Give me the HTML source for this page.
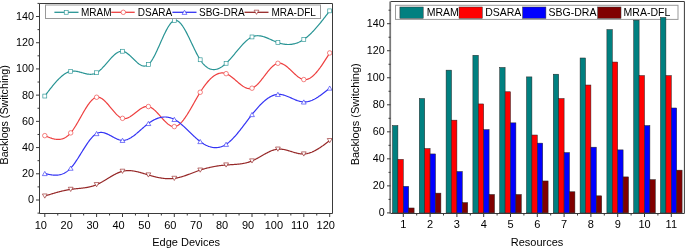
<!DOCTYPE html>
<html><head><meta charset="utf-8"><style>
html,body{margin:0;padding:0;background:#fff;}
body{width:685px;height:248px;overflow:hidden;font-family:"Liberation Sans",sans-serif;}
svg{display:block;will-change:transform;}
</style></head><body>
<svg width="685" height="248" viewBox="0 0 685 248"><rect x="0" y="0" width="685" height="248" fill="#fff"/>
<path d="M44.80,96.06 L45.45,95.20 L46.09,94.34 L46.74,93.48 L47.39,92.62 L48.04,91.76 L48.68,90.91 L49.33,90.07 L49.98,89.23 L50.63,88.40 L51.27,87.58 L51.92,86.77 L52.57,85.97 L53.22,85.17 L53.86,84.39 L54.51,83.63 L55.16,82.87 L55.81,82.14 L56.45,81.41 L57.10,80.71 L57.75,80.02 L58.40,79.35 L59.04,78.69 L59.69,78.06 L60.34,77.45 L60.99,76.86 L61.63,76.30 L62.28,75.75 L62.93,75.24 L63.58,74.75 L64.22,74.28 L64.87,73.84 L65.52,73.43 L66.17,73.05 L66.81,72.70 L67.46,72.38 L68.11,72.10 L68.76,71.84 L69.41,71.62 L70.05,71.44 L70.70,71.29 L71.35,71.18 L72.00,71.10 L72.64,71.05 L73.29,71.03 L73.94,71.05 L74.58,71.08 L75.23,71.14 L75.88,71.23 L76.53,71.33 L77.17,71.45 L77.82,71.59 L78.47,71.74 L79.12,71.90 L79.76,72.07 L80.41,72.24 L81.06,72.43 L81.71,72.61 L82.35,72.79 L83.00,72.98 L83.65,73.16 L84.30,73.33 L84.94,73.50 L85.59,73.65 L86.24,73.80 L86.89,73.93 L87.53,74.04 L88.18,74.14 L88.83,74.21 L89.48,74.26 L90.12,74.29 L90.77,74.29 L91.42,74.26 L92.07,74.20 L92.72,74.11 L93.36,73.98 L94.01,73.81 L94.66,73.61 L95.30,73.36 L95.95,73.07 L96.60,72.73 L97.25,72.35 L97.89,71.92 L98.54,71.45 L99.19,70.93 L99.84,70.39 L100.48,69.81 L101.13,69.20 L101.78,68.56 L102.43,67.89 L103.07,67.21 L103.72,66.51 L104.37,65.79 L105.02,65.06 L105.66,64.31 L106.31,63.57 L106.96,62.81 L107.61,62.06 L108.25,61.31 L108.90,60.56 L109.55,59.82 L110.20,59.10 L110.84,58.38 L111.49,57.69 L112.14,57.01 L112.79,56.35 L113.43,55.72 L114.08,55.12 L114.73,54.55 L115.38,54.02 L116.02,53.52 L116.67,53.06 L117.32,52.65 L117.97,52.28 L118.61,51.96 L119.26,51.69 L119.91,51.48 L120.56,51.32 L121.20,51.23 L121.85,51.20 L122.50,51.24 L123.15,51.34 L123.79,51.51 L124.44,51.74 L125.09,52.03 L125.74,52.37 L126.38,52.76 L127.03,53.20 L127.68,53.67 L128.33,54.18 L128.97,54.72 L129.62,55.29 L130.27,55.88 L130.92,56.49 L131.56,57.11 L132.21,57.74 L132.86,58.38 L133.51,59.03 L134.15,59.66 L134.80,60.30 L135.45,60.92 L136.10,61.52 L136.75,62.11 L137.39,62.67 L138.04,63.21 L138.69,63.71 L139.33,64.17 L139.98,64.60 L140.63,64.98 L141.28,65.31 L141.93,65.59 L142.57,65.80 L143.22,65.96 L143.87,66.05 L144.51,66.07 L145.16,66.02 L145.81,65.88 L146.46,65.67 L147.10,65.36 L147.75,64.97 L148.40,64.47 L149.05,63.88 L149.69,63.20 L150.34,62.42 L150.99,61.56 L151.64,60.62 L152.28,59.61 L152.93,58.53 L153.58,57.39 L154.23,56.20 L154.88,54.95 L155.52,53.65 L156.17,52.32 L156.82,50.95 L157.46,49.55 L158.11,48.12 L158.76,46.68 L159.41,45.22 L160.06,43.76 L160.70,42.29 L161.35,40.83 L162.00,39.37 L162.64,37.93 L163.29,36.51 L163.94,35.11 L164.59,33.75 L165.23,32.42 L165.88,31.13 L166.53,29.88 L167.18,28.69 L167.82,27.56 L168.47,26.49 L169.12,25.48 L169.77,24.55 L170.41,23.70 L171.06,22.94 L171.71,22.26 L172.36,21.68 L173.00,21.20 L173.65,20.83 L174.30,20.57 L174.95,20.42 L175.59,20.39 L176.24,20.46 L176.89,20.64 L177.54,20.92 L178.19,21.29 L178.83,21.76 L179.48,22.31 L180.13,22.95 L180.77,23.66 L181.42,24.45 L182.07,25.30 L182.72,26.22 L183.37,27.21 L184.01,28.24 L184.66,29.33 L185.31,30.47 L185.95,31.65 L186.60,32.87 L187.25,34.12 L187.90,35.41 L188.55,36.72 L189.19,38.05 L189.84,39.40 L190.49,40.76 L191.13,42.13 L191.78,43.50 L192.43,44.88 L193.08,46.25 L193.72,47.61 L194.37,48.95 L195.02,50.28 L195.67,51.59 L196.31,52.87 L196.96,54.12 L197.61,55.33 L198.26,56.51 L198.90,57.64 L199.55,58.72 L200.20,59.76 L200.85,60.73 L201.50,61.65 L202.14,62.51 L202.79,63.32 L203.44,64.08 L204.08,64.78 L204.73,65.43 L205.38,66.03 L206.03,66.58 L206.68,67.09 L207.32,67.54 L207.97,67.94 L208.62,68.30 L209.26,68.61 L209.91,68.88 L210.56,69.10 L211.21,69.28 L211.85,69.42 L212.50,69.51 L213.15,69.57 L213.80,69.58 L214.44,69.55 L215.09,69.49 L215.74,69.38 L216.39,69.25 L217.03,69.07 L217.68,68.86 L218.33,68.61 L218.98,68.34 L219.62,68.02 L220.27,67.68 L220.92,67.31 L221.57,66.90 L222.21,66.47 L222.86,66.01 L223.51,65.52 L224.16,65.00 L224.81,64.46 L225.45,63.89 L226.10,63.29 L226.75,62.68 L227.39,62.04 L228.04,61.38 L228.69,60.70 L229.34,60.01 L229.99,59.30 L230.63,58.57 L231.28,57.83 L231.93,57.09 L232.57,56.33 L233.22,55.56 L233.87,54.79 L234.52,54.01 L235.16,53.23 L235.81,52.45 L236.46,51.67 L237.11,50.89 L237.75,50.11 L238.40,49.34 L239.05,48.57 L239.70,47.81 L240.34,47.06 L240.99,46.32 L241.64,45.60 L242.29,44.88 L242.94,44.19 L243.58,43.51 L244.23,42.85 L244.88,42.21 L245.52,41.59 L246.17,40.99 L246.82,40.42 L247.47,39.88 L248.12,39.36 L248.76,38.88 L249.41,38.42 L250.06,38.00 L250.70,37.61 L251.35,37.26 L252.00,36.95 L252.65,36.67 L253.29,36.44 L253.94,36.24 L254.59,36.07 L255.24,35.94 L255.88,35.84 L256.53,35.77 L257.18,35.73 L257.83,35.72 L258.47,35.74 L259.12,35.78 L259.77,35.85 L260.42,35.95 L261.06,36.06 L261.71,36.20 L262.36,36.35 L263.01,36.53 L263.65,36.72 L264.30,36.92 L264.95,37.14 L265.60,37.38 L266.25,37.62 L266.89,37.88 L267.54,38.14 L268.19,38.42 L268.83,38.70 L269.48,38.98 L270.13,39.27 L270.78,39.56 L271.43,39.86 L272.07,40.15 L272.72,40.44 L273.37,40.73 L274.01,41.02 L274.66,41.30 L275.31,41.58 L275.96,41.84 L276.60,42.10 L277.25,42.35 L277.90,42.58 L278.55,42.81 L279.19,43.02 L279.84,43.22 L280.49,43.40 L281.14,43.57 L281.78,43.73 L282.43,43.87 L283.08,44.00 L283.73,44.11 L284.38,44.21 L285.02,44.30 L285.67,44.37 L286.32,44.42 L286.96,44.46 L287.61,44.48 L288.26,44.49 L288.91,44.48 L289.56,44.46 L290.20,44.42 L290.85,44.36 L291.50,44.29 L292.14,44.19 L292.79,44.09 L293.44,43.96 L294.09,43.82 L294.73,43.66 L295.38,43.48 L296.03,43.28 L296.68,43.07 L297.32,42.83 L297.97,42.58 L298.62,42.31 L299.27,42.02 L299.91,41.71 L300.56,41.38 L301.21,41.03 L301.86,40.67 L302.50,40.28 L303.15,39.87 L303.80,39.44 L304.45,38.99 L305.09,38.52 L305.74,38.03 L306.39,37.52 L307.04,37.00 L307.69,36.45 L308.33,35.89 L308.98,35.31 L309.63,34.71 L310.27,34.10 L310.92,33.47 L311.57,32.83 L312.22,32.17 L312.87,31.50 L313.51,30.82 L314.16,30.12 L314.81,29.41 L315.45,28.69 L316.10,27.96 L316.75,27.22 L317.40,26.46 L318.05,25.70 L318.69,24.93 L319.34,24.14 L319.99,23.35 L320.63,22.56 L321.28,21.75 L321.93,20.94 L322.58,20.12 L323.23,19.30 L323.87,18.47 L324.52,17.64 L325.17,16.80 L325.81,15.96 L326.46,15.11 L327.11,14.27 L327.76,13.42 L328.40,12.57 L329.05,11.72 L329.70,10.87" fill="none" stroke="#289494" stroke-width="1.2" stroke-linejoin="round"/>
<path d="M44.80,135.64 L45.45,135.92 L46.09,136.19 L46.74,136.46 L47.39,136.73 L48.04,136.99 L48.68,137.25 L49.33,137.50 L49.98,137.74 L50.63,137.97 L51.27,138.18 L51.92,138.39 L52.57,138.58 L53.22,138.75 L53.86,138.91 L54.51,139.05 L55.16,139.17 L55.81,139.27 L56.45,139.35 L57.10,139.40 L57.75,139.43 L58.40,139.43 L59.04,139.41 L59.69,139.36 L60.34,139.28 L60.99,139.17 L61.63,139.02 L62.28,138.84 L62.93,138.63 L63.58,138.38 L64.22,138.10 L64.87,137.77 L65.52,137.41 L66.17,137.00 L66.81,136.55 L67.46,136.06 L68.11,135.52 L68.76,134.94 L69.41,134.30 L70.05,133.62 L70.70,132.89 L71.35,132.11 L72.00,131.28 L72.64,130.40 L73.29,129.49 L73.94,128.53 L74.58,127.54 L75.23,126.52 L75.88,125.47 L76.53,124.40 L77.17,123.30 L77.82,122.19 L78.47,121.06 L79.12,119.92 L79.76,118.78 L80.41,117.63 L81.06,116.47 L81.71,115.32 L82.35,114.18 L83.00,113.04 L83.65,111.92 L84.30,110.81 L84.94,109.72 L85.59,108.66 L86.24,107.62 L86.89,106.61 L87.53,105.63 L88.18,104.69 L88.83,103.78 L89.48,102.92 L90.12,102.11 L90.77,101.35 L91.42,100.63 L92.07,99.98 L92.72,99.38 L93.36,98.85 L94.01,98.38 L94.66,97.98 L95.30,97.66 L95.95,97.41 L96.60,97.24 L97.25,97.15 L97.89,97.15 L98.54,97.22 L99.19,97.35 L99.84,97.56 L100.48,97.83 L101.13,98.17 L101.78,98.56 L102.43,99.00 L103.07,99.49 L103.72,100.03 L104.37,100.60 L105.02,101.22 L105.66,101.87 L106.31,102.55 L106.96,103.26 L107.61,103.99 L108.25,104.73 L108.90,105.50 L109.55,106.27 L110.20,107.05 L110.84,107.84 L111.49,108.63 L112.14,109.41 L112.79,110.18 L113.43,110.95 L114.08,111.70 L114.73,112.43 L115.38,113.13 L116.02,113.81 L116.67,114.47 L117.32,115.08 L117.97,115.66 L118.61,116.20 L119.26,116.69 L119.91,117.14 L120.56,117.53 L121.20,117.86 L121.85,118.13 L122.50,118.34 L123.15,118.49 L123.79,118.56 L124.44,118.58 L125.09,118.54 L125.74,118.45 L126.38,118.30 L127.03,118.11 L127.68,117.87 L128.33,117.59 L128.97,117.27 L129.62,116.91 L130.27,116.53 L130.92,116.12 L131.56,115.68 L132.21,115.22 L132.86,114.75 L133.51,114.26 L134.15,113.75 L134.80,113.24 L135.45,112.73 L136.10,112.21 L136.75,111.70 L137.39,111.19 L138.04,110.69 L138.69,110.20 L139.33,109.72 L139.98,109.27 L140.63,108.83 L141.28,108.43 L141.93,108.05 L142.57,107.70 L143.22,107.39 L143.87,107.11 L144.51,106.88 L145.16,106.69 L145.81,106.55 L146.46,106.46 L147.10,106.43 L147.75,106.46 L148.40,106.55 L149.05,106.70 L149.69,106.91 L150.34,107.18 L150.99,107.51 L151.64,107.89 L152.28,108.31 L152.93,108.78 L153.58,109.29 L154.23,109.84 L154.88,110.42 L155.52,111.04 L156.17,111.68 L156.82,112.34 L157.46,113.02 L158.11,113.73 L158.76,114.44 L159.41,115.16 L160.06,115.89 L160.70,116.63 L161.35,117.36 L162.00,118.09 L162.64,118.81 L163.29,119.52 L163.94,120.22 L164.59,120.89 L165.23,121.55 L165.88,122.18 L166.53,122.79 L167.18,123.36 L167.82,123.90 L168.47,124.40 L169.12,124.86 L169.77,125.27 L170.41,125.63 L171.06,125.95 L171.71,126.20 L172.36,126.40 L173.00,126.53 L173.65,126.60 L174.30,126.60 L174.95,126.53 L175.59,126.38 L176.24,126.17 L176.89,125.90 L177.54,125.55 L178.19,125.15 L178.83,124.69 L179.48,124.18 L180.13,123.61 L180.77,122.98 L181.42,122.31 L182.07,121.60 L182.72,120.83 L183.37,120.03 L184.01,119.19 L184.66,118.31 L185.31,117.39 L185.95,116.45 L186.60,115.47 L187.25,114.46 L187.90,113.43 L188.55,112.38 L189.19,111.31 L189.84,110.22 L190.49,109.11 L191.13,107.99 L191.78,106.86 L192.43,105.72 L193.08,104.58 L193.72,103.43 L194.37,102.28 L195.02,101.13 L195.67,99.98 L196.31,98.84 L196.96,97.71 L197.61,96.59 L198.26,95.48 L198.90,94.39 L199.55,93.31 L200.20,92.26 L200.85,91.23 L201.50,90.22 L202.14,89.23 L202.79,88.27 L203.44,87.33 L204.08,86.42 L204.73,85.54 L205.38,84.67 L206.03,83.84 L206.68,83.03 L207.32,82.25 L207.97,81.50 L208.62,80.77 L209.26,80.08 L209.91,79.41 L210.56,78.78 L211.21,78.17 L211.85,77.59 L212.50,77.05 L213.15,76.54 L213.80,76.06 L214.44,75.61 L215.09,75.19 L215.74,74.81 L216.39,74.46 L217.03,74.15 L217.68,73.87 L218.33,73.63 L218.98,73.42 L219.62,73.25 L220.27,73.12 L220.92,73.02 L221.57,72.96 L222.21,72.94 L222.86,72.96 L223.51,73.02 L224.16,73.11 L224.81,73.25 L225.45,73.43 L226.10,73.65 L226.75,73.91 L227.39,74.21 L228.04,74.54 L228.69,74.91 L229.34,75.31 L229.99,75.74 L230.63,76.20 L231.28,76.67 L231.93,77.17 L232.57,77.69 L233.22,78.22 L233.87,78.76 L234.52,79.31 L235.16,79.87 L235.81,80.44 L236.46,81.00 L237.11,81.57 L237.75,82.13 L238.40,82.68 L239.05,83.23 L239.70,83.76 L240.34,84.28 L240.99,84.79 L241.64,85.27 L242.29,85.73 L242.94,86.17 L243.58,86.58 L244.23,86.96 L244.88,87.31 L245.52,87.62 L246.17,87.89 L246.82,88.12 L247.47,88.31 L248.12,88.46 L248.76,88.55 L249.41,88.59 L250.06,88.58 L250.70,88.51 L251.35,88.39 L252.00,88.20 L252.65,87.94 L253.29,87.63 L253.94,87.26 L254.59,86.83 L255.24,86.35 L255.88,85.83 L256.53,85.26 L257.18,84.64 L257.83,83.99 L258.47,83.31 L259.12,82.59 L259.77,81.85 L260.42,81.08 L261.06,80.29 L261.71,79.49 L262.36,78.67 L263.01,77.83 L263.65,76.99 L264.30,76.15 L264.95,75.30 L265.60,74.46 L266.25,73.62 L266.89,72.79 L267.54,71.97 L268.19,71.17 L268.83,70.39 L269.48,69.63 L270.13,68.89 L270.78,68.19 L271.43,67.51 L272.07,66.88 L272.72,66.28 L273.37,65.72 L274.01,65.21 L274.66,64.75 L275.31,64.34 L275.96,63.99 L276.60,63.69 L277.25,63.46 L277.90,63.29 L278.55,63.20 L279.19,63.16 L279.84,63.19 L280.49,63.28 L281.14,63.43 L281.78,63.63 L282.43,63.88 L283.08,64.18 L283.73,64.52 L284.38,64.90 L285.02,65.32 L285.67,65.77 L286.32,66.26 L286.96,66.77 L287.61,67.31 L288.26,67.87 L288.91,68.44 L289.56,69.04 L290.20,69.64 L290.85,70.25 L291.50,70.87 L292.14,71.50 L292.79,72.12 L293.44,72.74 L294.09,73.35 L294.73,73.95 L295.38,74.54 L296.03,75.11 L296.68,75.66 L297.32,76.19 L297.97,76.70 L298.62,77.17 L299.27,77.61 L299.91,78.02 L300.56,78.39 L301.21,78.72 L301.86,79.00 L302.50,79.23 L303.15,79.42 L303.80,79.55 L304.45,79.62 L305.09,79.64 L305.74,79.60 L306.39,79.51 L307.04,79.36 L307.69,79.17 L308.33,78.93 L308.98,78.64 L309.63,78.30 L310.27,77.92 L310.92,77.50 L311.57,77.03 L312.22,76.53 L312.87,75.99 L313.51,75.40 L314.16,74.79 L314.81,74.14 L315.45,73.45 L316.10,72.74 L316.75,71.99 L317.40,71.21 L318.05,70.41 L318.69,69.58 L319.34,68.73 L319.99,67.86 L320.63,66.96 L321.28,66.04 L321.93,65.10 L322.58,64.15 L323.23,63.18 L323.87,62.20 L324.52,61.20 L325.17,60.20 L325.81,59.18 L326.46,58.15 L327.11,57.12 L327.76,56.08 L328.40,55.03 L329.05,53.99 L329.70,52.94" fill="none" stroke="#ee4040" stroke-width="1.2" stroke-linejoin="round"/>
<path d="M44.80,173.52 L45.45,173.67 L46.09,173.82 L46.74,173.96 L47.39,174.10 L48.04,174.24 L48.68,174.37 L49.33,174.50 L49.98,174.62 L50.63,174.73 L51.27,174.83 L51.92,174.92 L52.57,174.99 L53.22,175.06 L53.86,175.11 L54.51,175.15 L55.16,175.17 L55.81,175.17 L56.45,175.16 L57.10,175.12 L57.75,175.07 L58.40,175.00 L59.04,174.90 L59.69,174.78 L60.34,174.63 L60.99,174.46 L61.63,174.27 L62.28,174.04 L62.93,173.79 L63.58,173.51 L64.22,173.20 L64.87,172.85 L65.52,172.48 L66.17,172.06 L66.81,171.62 L67.46,171.14 L68.11,170.62 L68.76,170.06 L69.41,169.46 L70.05,168.83 L70.70,168.15 L71.35,167.43 L72.00,166.67 L72.64,165.87 L73.29,165.04 L73.94,164.18 L74.58,163.29 L75.23,162.37 L75.88,161.42 L76.53,160.46 L77.17,159.47 L77.82,158.47 L78.47,157.45 L79.12,156.42 L79.76,155.39 L80.41,154.34 L81.06,153.29 L81.71,152.24 L82.35,151.19 L83.00,150.15 L83.65,149.11 L84.30,148.08 L84.94,147.06 L85.59,146.06 L86.24,145.07 L86.89,144.10 L87.53,143.15 L88.18,142.22 L88.83,141.33 L89.48,140.46 L90.12,139.62 L90.77,138.82 L91.42,138.05 L92.07,137.32 L92.72,136.64 L93.36,136.00 L94.01,135.40 L94.66,134.86 L95.30,134.37 L95.95,133.93 L96.60,133.55 L97.25,133.23 L97.89,132.96 L98.54,132.75 L99.19,132.59 L99.84,132.49 L100.48,132.42 L101.13,132.41 L101.78,132.43 L102.43,132.50 L103.07,132.60 L103.72,132.74 L104.37,132.91 L105.02,133.11 L105.66,133.33 L106.31,133.58 L106.96,133.85 L107.61,134.14 L108.25,134.45 L108.90,134.77 L109.55,135.10 L110.20,135.45 L110.84,135.80 L111.49,136.15 L112.14,136.51 L112.79,136.86 L113.43,137.21 L114.08,137.56 L114.73,137.89 L115.38,138.22 L116.02,138.53 L116.67,138.83 L117.32,139.11 L117.97,139.36 L118.61,139.60 L119.26,139.80 L119.91,139.98 L120.56,140.13 L121.20,140.25 L121.85,140.32 L122.50,140.36 L123.15,140.36 L123.79,140.32 L124.44,140.24 L125.09,140.13 L125.74,139.97 L126.38,139.79 L127.03,139.57 L127.68,139.32 L128.33,139.04 L128.97,138.73 L129.62,138.40 L130.27,138.04 L130.92,137.66 L131.56,137.25 L132.21,136.82 L132.86,136.37 L133.51,135.91 L134.15,135.43 L134.80,134.93 L135.45,134.42 L136.10,133.89 L136.75,133.36 L137.39,132.81 L138.04,132.26 L138.69,131.70 L139.33,131.13 L139.98,130.56 L140.63,129.99 L141.28,129.42 L141.93,128.85 L142.57,128.28 L143.22,127.71 L143.87,127.15 L144.51,126.59 L145.16,126.04 L145.81,125.50 L146.46,124.97 L147.10,124.45 L147.75,123.95 L148.40,123.46 L149.05,122.98 L149.69,122.52 L150.34,122.08 L150.99,121.66 L151.64,121.25 L152.28,120.86 L152.93,120.49 L153.58,120.13 L154.23,119.79 L154.88,119.47 L155.52,119.17 L156.17,118.89 L156.82,118.63 L157.46,118.38 L158.11,118.16 L158.76,117.95 L159.41,117.76 L160.06,117.60 L160.70,117.45 L161.35,117.32 L162.00,117.22 L162.64,117.13 L163.29,117.07 L163.94,117.02 L164.59,117.00 L165.23,117.00 L165.88,117.02 L166.53,117.07 L167.18,117.13 L167.82,117.22 L168.47,117.33 L169.12,117.47 L169.77,117.63 L170.41,117.81 L171.06,118.01 L171.71,118.24 L172.36,118.49 L173.00,118.77 L173.65,119.07 L174.30,119.39 L174.95,119.74 L175.59,120.12 L176.24,120.51 L176.89,120.93 L177.54,121.37 L178.19,121.83 L178.83,122.31 L179.48,122.80 L180.13,123.31 L180.77,123.84 L181.42,124.38 L182.07,124.93 L182.72,125.50 L183.37,126.08 L184.01,126.66 L184.66,127.26 L185.31,127.86 L185.95,128.48 L186.60,129.09 L187.25,129.71 L187.90,130.34 L188.55,130.97 L189.19,131.60 L189.84,132.23 L190.49,132.86 L191.13,133.49 L191.78,134.12 L192.43,134.74 L193.08,135.36 L193.72,135.97 L194.37,136.57 L195.02,137.17 L195.67,137.76 L196.31,138.34 L196.96,138.91 L197.61,139.46 L198.26,140.00 L198.90,140.53 L199.55,141.05 L200.20,141.54 L200.85,142.02 L201.50,142.48 L202.14,142.93 L202.79,143.35 L203.44,143.76 L204.08,144.15 L204.73,144.52 L205.38,144.87 L206.03,145.20 L206.68,145.51 L207.32,145.80 L207.97,146.07 L208.62,146.32 L209.26,146.55 L209.91,146.76 L210.56,146.95 L211.21,147.11 L211.85,147.26 L212.50,147.38 L213.15,147.48 L213.80,147.55 L214.44,147.60 L215.09,147.63 L215.74,147.64 L216.39,147.62 L217.03,147.58 L217.68,147.51 L218.33,147.42 L218.98,147.30 L219.62,147.16 L220.27,146.99 L220.92,146.80 L221.57,146.58 L222.21,146.34 L222.86,146.06 L223.51,145.76 L224.16,145.44 L224.81,145.09 L225.45,144.70 L226.10,144.30 L226.75,143.86 L227.39,143.39 L228.04,142.90 L228.69,142.39 L229.34,141.85 L229.99,141.28 L230.63,140.70 L231.28,140.09 L231.93,139.46 L232.57,138.81 L233.22,138.14 L233.87,137.45 L234.52,136.75 L235.16,136.03 L235.81,135.29 L236.46,134.54 L237.11,133.78 L237.75,133.00 L238.40,132.21 L239.05,131.41 L239.70,130.60 L240.34,129.78 L240.99,128.96 L241.64,128.12 L242.29,127.28 L242.94,126.44 L243.58,125.59 L244.23,124.73 L244.88,123.88 L245.52,123.02 L246.17,122.16 L246.82,121.30 L247.47,120.44 L248.12,119.59 L248.76,118.73 L249.41,117.88 L250.06,117.04 L250.70,116.20 L251.35,115.37 L252.00,114.54 L252.65,113.73 L253.29,112.92 L253.94,112.12 L254.59,111.33 L255.24,110.55 L255.88,109.78 L256.53,109.03 L257.18,108.28 L257.83,107.55 L258.47,106.84 L259.12,106.13 L259.77,105.45 L260.42,104.77 L261.06,104.11 L261.71,103.47 L262.36,102.85 L263.01,102.24 L263.65,101.65 L264.30,101.08 L264.95,100.53 L265.60,99.99 L266.25,99.48 L266.89,98.99 L267.54,98.52 L268.19,98.07 L268.83,97.65 L269.48,97.24 L270.13,96.86 L270.78,96.51 L271.43,96.18 L272.07,95.87 L272.72,95.59 L273.37,95.34 L274.01,95.11 L274.66,94.92 L275.31,94.75 L275.96,94.60 L276.60,94.49 L277.25,94.41 L277.90,94.36 L278.55,94.34 L279.19,94.34 L279.84,94.38 L280.49,94.44 L281.14,94.53 L281.78,94.64 L282.43,94.77 L283.08,94.93 L283.73,95.10 L284.38,95.29 L285.02,95.50 L285.67,95.72 L286.32,95.96 L286.96,96.20 L287.61,96.46 L288.26,96.73 L288.91,97.00 L289.56,97.28 L290.20,97.57 L290.85,97.85 L291.50,98.14 L292.14,98.43 L292.79,98.72 L293.44,99.00 L294.09,99.28 L294.73,99.56 L295.38,99.82 L296.03,100.08 L296.68,100.33 L297.32,100.57 L297.97,100.79 L298.62,101.00 L299.27,101.19 L299.91,101.36 L300.56,101.52 L301.21,101.65 L301.86,101.77 L302.50,101.86 L303.15,101.92 L303.80,101.96 L304.45,101.97 L305.09,101.95 L305.74,101.91 L306.39,101.84 L307.04,101.75 L307.69,101.63 L308.33,101.49 L308.98,101.32 L309.63,101.14 L310.27,100.93 L310.92,100.70 L311.57,100.45 L312.22,100.18 L312.87,99.89 L313.51,99.58 L314.16,99.26 L314.81,98.92 L315.45,98.56 L316.10,98.19 L316.75,97.80 L317.40,97.40 L318.05,96.99 L318.69,96.56 L319.34,96.12 L319.99,95.67 L320.63,95.21 L321.28,94.74 L321.93,94.26 L322.58,93.78 L323.23,93.28 L323.87,92.78 L324.52,92.27 L325.17,91.76 L325.81,91.24 L326.46,90.72 L327.11,90.19 L327.76,89.66 L328.40,89.13 L329.05,88.60 L329.70,88.07" fill="none" stroke="#3434f4" stroke-width="1.2" stroke-linejoin="round"/>
<path d="M44.80,196.07 L45.45,195.86 L46.09,195.66 L46.74,195.46 L47.39,195.25 L48.04,195.05 L48.68,194.85 L49.33,194.65 L49.98,194.45 L50.63,194.25 L51.27,194.05 L51.92,193.86 L52.57,193.66 L53.22,193.47 L53.86,193.28 L54.51,193.09 L55.16,192.90 L55.81,192.72 L56.45,192.54 L57.10,192.36 L57.75,192.18 L58.40,192.00 L59.04,191.83 L59.69,191.66 L60.34,191.50 L60.99,191.33 L61.63,191.17 L62.28,191.02 L62.93,190.87 L63.58,190.72 L64.22,190.58 L64.87,190.44 L65.52,190.30 L66.17,190.17 L66.81,190.04 L67.46,189.92 L68.11,189.80 L68.76,189.69 L69.41,189.58 L70.05,189.48 L70.70,189.38 L71.35,189.29 L72.00,189.21 L72.64,189.12 L73.29,189.05 L73.94,188.97 L74.58,188.90 L75.23,188.83 L75.88,188.76 L76.53,188.70 L77.17,188.63 L77.82,188.57 L78.47,188.50 L79.12,188.44 L79.76,188.37 L80.41,188.31 L81.06,188.24 L81.71,188.17 L82.35,188.09 L83.00,188.01 L83.65,187.93 L84.30,187.84 L84.94,187.75 L85.59,187.65 L86.24,187.55 L86.89,187.44 L87.53,187.32 L88.18,187.20 L88.83,187.07 L89.48,186.92 L90.12,186.77 L90.77,186.61 L91.42,186.44 L92.07,186.26 L92.72,186.07 L93.36,185.87 L94.01,185.65 L94.66,185.43 L95.30,185.19 L95.95,184.93 L96.60,184.66 L97.25,184.38 L97.89,184.09 L98.54,183.78 L99.19,183.46 L99.84,183.13 L100.48,182.78 L101.13,182.43 L101.78,182.07 L102.43,181.71 L103.07,181.33 L103.72,180.95 L104.37,180.57 L105.02,180.18 L105.66,179.79 L106.31,179.39 L106.96,178.99 L107.61,178.60 L108.25,178.20 L108.90,177.81 L109.55,177.41 L110.20,177.02 L110.84,176.64 L111.49,176.25 L112.14,175.88 L112.79,175.51 L113.43,175.14 L114.08,174.79 L114.73,174.44 L115.38,174.10 L116.02,173.78 L116.67,173.46 L117.32,173.16 L117.97,172.87 L118.61,172.60 L119.26,172.34 L119.91,172.09 L120.56,171.87 L121.20,171.66 L121.85,171.47 L122.50,171.30 L123.15,171.14 L123.79,171.01 L124.44,170.90 L125.09,170.80 L125.74,170.73 L126.38,170.67 L127.03,170.63 L127.68,170.60 L128.33,170.59 L128.97,170.60 L129.62,170.61 L130.27,170.65 L130.92,170.69 L131.56,170.75 L132.21,170.83 L132.86,170.91 L133.51,171.00 L134.15,171.11 L134.80,171.23 L135.45,171.35 L136.10,171.48 L136.75,171.63 L137.39,171.78 L138.04,171.93 L138.69,172.10 L139.33,172.27 L139.98,172.44 L140.63,172.62 L141.28,172.81 L141.93,173.00 L142.57,173.19 L143.22,173.38 L143.87,173.58 L144.51,173.78 L145.16,173.98 L145.81,174.17 L146.46,174.37 L147.10,174.57 L147.75,174.77 L148.40,174.97 L149.05,175.16 L149.69,175.35 L150.34,175.54 L150.99,175.72 L151.64,175.90 L152.28,176.08 L152.93,176.25 L153.58,176.42 L154.23,176.59 L154.88,176.75 L155.52,176.91 L156.17,177.06 L156.82,177.21 L157.46,177.35 L158.11,177.48 L158.76,177.61 L159.41,177.74 L160.06,177.85 L160.70,177.96 L161.35,178.07 L162.00,178.17 L162.64,178.26 L163.29,178.34 L163.94,178.41 L164.59,178.48 L165.23,178.54 L165.88,178.59 L166.53,178.63 L167.18,178.66 L167.82,178.69 L168.47,178.70 L169.12,178.70 L169.77,178.70 L170.41,178.69 L171.06,178.66 L171.71,178.62 L172.36,178.58 L173.00,178.52 L173.65,178.45 L174.30,178.37 L174.95,178.28 L175.59,178.18 L176.24,178.07 L176.89,177.94 L177.54,177.81 L178.19,177.67 L178.83,177.52 L179.48,177.36 L180.13,177.19 L180.77,177.01 L181.42,176.83 L182.07,176.63 L182.72,176.44 L183.37,176.23 L184.01,176.02 L184.66,175.81 L185.31,175.59 L185.95,175.36 L186.60,175.13 L187.25,174.90 L187.90,174.67 L188.55,174.43 L189.19,174.19 L189.84,173.94 L190.49,173.70 L191.13,173.45 L191.78,173.21 L192.43,172.96 L193.08,172.71 L193.72,172.47 L194.37,172.22 L195.02,171.98 L195.67,171.73 L196.31,171.49 L196.96,171.25 L197.61,171.02 L198.26,170.79 L198.90,170.56 L199.55,170.34 L200.20,170.12 L200.85,169.90 L201.50,169.69 L202.14,169.49 L202.79,169.29 L203.44,169.09 L204.08,168.90 L204.73,168.72 L205.38,168.54 L206.03,168.36 L206.68,168.19 L207.32,168.03 L207.97,167.86 L208.62,167.71 L209.26,167.55 L209.91,167.40 L210.56,167.26 L211.21,167.12 L211.85,166.99 L212.50,166.85 L213.15,166.73 L213.80,166.60 L214.44,166.49 L215.09,166.37 L215.74,166.26 L216.39,166.15 L217.03,166.05 L217.68,165.95 L218.33,165.86 L218.98,165.77 L219.62,165.68 L220.27,165.60 L220.92,165.52 L221.57,165.44 L222.21,165.37 L222.86,165.30 L223.51,165.23 L224.16,165.17 L224.81,165.11 L225.45,165.06 L226.10,165.00 L226.75,164.96 L227.39,164.91 L228.04,164.87 L228.69,164.83 L229.34,164.79 L229.99,164.75 L230.63,164.71 L231.28,164.67 L231.93,164.63 L232.57,164.59 L233.22,164.55 L233.87,164.51 L234.52,164.47 L235.16,164.42 L235.81,164.38 L236.46,164.32 L237.11,164.27 L237.75,164.21 L238.40,164.14 L239.05,164.07 L239.70,164.00 L240.34,163.92 L240.99,163.83 L241.64,163.74 L242.29,163.64 L242.94,163.53 L243.58,163.41 L244.23,163.28 L244.88,163.15 L245.52,163.00 L246.17,162.85 L246.82,162.69 L247.47,162.51 L248.12,162.32 L248.76,162.12 L249.41,161.91 L250.06,161.69 L250.70,161.45 L251.35,161.20 L252.00,160.94 L252.65,160.66 L253.29,160.37 L253.94,160.07 L254.59,159.75 L255.24,159.43 L255.88,159.09 L256.53,158.75 L257.18,158.40 L257.83,158.04 L258.47,157.68 L259.12,157.32 L259.77,156.95 L260.42,156.57 L261.06,156.20 L261.71,155.82 L262.36,155.45 L263.01,155.08 L263.65,154.70 L264.30,154.34 L264.95,153.97 L265.60,153.62 L266.25,153.27 L266.89,152.92 L267.54,152.59 L268.19,152.26 L268.83,151.94 L269.48,151.64 L270.13,151.35 L270.78,151.07 L271.43,150.80 L272.07,150.55 L272.72,150.32 L273.37,150.10 L274.01,149.90 L274.66,149.72 L275.31,149.56 L275.96,149.42 L276.60,149.31 L277.25,149.21 L277.90,149.14 L278.55,149.10 L279.19,149.08 L279.84,149.08 L280.49,149.10 L281.14,149.15 L281.78,149.21 L282.43,149.29 L283.08,149.39 L283.73,149.50 L284.38,149.63 L285.02,149.77 L285.67,149.92 L286.32,150.08 L286.96,150.25 L287.61,150.43 L288.26,150.61 L288.91,150.80 L289.56,151.00 L290.20,151.20 L290.85,151.40 L291.50,151.60 L292.14,151.80 L292.79,152.00 L293.44,152.20 L294.09,152.40 L294.73,152.58 L295.38,152.77 L296.03,152.94 L296.68,153.10 L297.32,153.26 L297.97,153.40 L298.62,153.54 L299.27,153.65 L299.91,153.76 L300.56,153.84 L301.21,153.91 L301.86,153.96 L302.50,154.00 L303.15,154.01 L303.80,153.99 L304.45,153.96 L305.09,153.90 L305.74,153.82 L306.39,153.72 L307.04,153.60 L307.69,153.46 L308.33,153.29 L308.98,153.11 L309.63,152.91 L310.27,152.69 L310.92,152.46 L311.57,152.21 L312.22,151.94 L312.87,151.65 L313.51,151.35 L314.16,151.04 L314.81,150.71 L315.45,150.37 L316.10,150.01 L316.75,149.64 L317.40,149.26 L318.05,148.87 L318.69,148.47 L319.34,148.06 L319.99,147.64 L320.63,147.22 L321.28,146.78 L321.93,146.33 L322.58,145.88 L323.23,145.43 L323.87,144.96 L324.52,144.49 L325.17,144.02 L325.81,143.54 L326.46,143.06 L327.11,142.58 L327.76,142.09 L328.40,141.60 L329.05,141.11 L329.70,140.63" fill="none" stroke="#962828" stroke-width="1.2" stroke-linejoin="round"/>
<rect x="42.85" y="94.11" width="3.9" height="3.9" fill="#fff" stroke="#289494" stroke-width="0.65"/>
<rect x="68.75" y="69.34" width="3.9" height="3.9" fill="#fff" stroke="#289494" stroke-width="0.65"/>
<rect x="94.65" y="70.78" width="3.9" height="3.9" fill="#fff" stroke="#289494" stroke-width="0.65"/>
<rect x="120.55" y="49.29" width="3.9" height="3.9" fill="#fff" stroke="#289494" stroke-width="0.65"/>
<rect x="146.45" y="62.52" width="3.9" height="3.9" fill="#fff" stroke="#289494" stroke-width="0.65"/>
<rect x="172.35" y="18.62" width="3.9" height="3.9" fill="#fff" stroke="#289494" stroke-width="0.65"/>
<rect x="198.25" y="57.81" width="3.9" height="3.9" fill="#fff" stroke="#289494" stroke-width="0.65"/>
<rect x="224.15" y="61.34" width="3.9" height="3.9" fill="#fff" stroke="#289494" stroke-width="0.65"/>
<rect x="250.05" y="35.00" width="3.9" height="3.9" fill="#fff" stroke="#289494" stroke-width="0.65"/>
<rect x="275.95" y="40.63" width="3.9" height="3.9" fill="#fff" stroke="#289494" stroke-width="0.65"/>
<rect x="301.85" y="37.49" width="3.9" height="3.9" fill="#fff" stroke="#289494" stroke-width="0.65"/>
<rect x="327.75" y="8.92" width="3.9" height="3.9" fill="#fff" stroke="#289494" stroke-width="0.65"/>
<circle cx="44.80" cy="135.64" r="2.25" fill="#fff" stroke="#ee4040" stroke-width="0.65"/>
<circle cx="70.70" cy="132.89" r="2.25" fill="#fff" stroke="#ee4040" stroke-width="0.65"/>
<circle cx="96.60" cy="97.24" r="2.25" fill="#fff" stroke="#ee4040" stroke-width="0.65"/>
<circle cx="122.50" cy="118.34" r="2.25" fill="#fff" stroke="#ee4040" stroke-width="0.65"/>
<circle cx="148.40" cy="106.55" r="2.25" fill="#fff" stroke="#ee4040" stroke-width="0.65"/>
<circle cx="174.30" cy="126.60" r="2.25" fill="#fff" stroke="#ee4040" stroke-width="0.65"/>
<circle cx="200.20" cy="92.26" r="2.25" fill="#fff" stroke="#ee4040" stroke-width="0.65"/>
<circle cx="226.10" cy="73.65" r="2.25" fill="#fff" stroke="#ee4040" stroke-width="0.65"/>
<circle cx="252.00" cy="88.20" r="2.25" fill="#fff" stroke="#ee4040" stroke-width="0.65"/>
<circle cx="277.90" cy="63.29" r="2.25" fill="#fff" stroke="#ee4040" stroke-width="0.65"/>
<circle cx="303.80" cy="79.55" r="2.25" fill="#fff" stroke="#ee4040" stroke-width="0.65"/>
<circle cx="329.70" cy="52.94" r="2.25" fill="#fff" stroke="#ee4040" stroke-width="0.65"/>
<path d="M44.80,171.42 L47.20,175.62 L42.40,175.62 Z" fill="#fff" stroke="#3434f4" stroke-width="0.65"/>
<path d="M70.70,166.05 L73.10,170.25 L68.30,170.25 Z" fill="#fff" stroke="#3434f4" stroke-width="0.65"/>
<path d="M96.60,131.45 L99.00,135.65 L94.20,135.65 Z" fill="#fff" stroke="#3434f4" stroke-width="0.65"/>
<path d="M122.50,138.26 L124.90,142.46 L120.10,142.46 Z" fill="#fff" stroke="#3434f4" stroke-width="0.65"/>
<path d="M148.40,121.36 L150.80,125.56 L146.00,125.56 Z" fill="#fff" stroke="#3434f4" stroke-width="0.65"/>
<path d="M174.30,117.29 L176.70,121.49 L171.90,121.49 Z" fill="#fff" stroke="#3434f4" stroke-width="0.65"/>
<path d="M200.20,139.44 L202.60,143.64 L197.80,143.64 Z" fill="#fff" stroke="#3434f4" stroke-width="0.65"/>
<path d="M226.10,142.20 L228.50,146.40 L223.70,146.40 Z" fill="#fff" stroke="#3434f4" stroke-width="0.65"/>
<path d="M252.00,112.44 L254.40,116.64 L249.60,116.64 Z" fill="#fff" stroke="#3434f4" stroke-width="0.65"/>
<path d="M277.90,92.26 L280.30,96.46 L275.50,96.46 Z" fill="#fff" stroke="#3434f4" stroke-width="0.65"/>
<path d="M303.80,99.86 L306.20,104.06 L301.40,104.06 Z" fill="#fff" stroke="#3434f4" stroke-width="0.65"/>
<path d="M329.70,85.97 L332.10,90.17 L327.30,90.17 Z" fill="#fff" stroke="#3434f4" stroke-width="0.65"/>
<path d="M42.40,193.97 L47.20,193.97 L44.80,198.17 Z" fill="#fff" stroke="#962828" stroke-width="0.65"/>
<path d="M68.30,187.28 L73.10,187.28 L70.70,191.48 Z" fill="#fff" stroke="#962828" stroke-width="0.65"/>
<path d="M94.20,182.56 L99.00,182.56 L96.60,186.76 Z" fill="#fff" stroke="#962828" stroke-width="0.65"/>
<path d="M120.10,169.20 L124.90,169.20 L122.50,173.40 Z" fill="#fff" stroke="#962828" stroke-width="0.65"/>
<path d="M146.00,172.87 L150.80,172.87 L148.40,177.07 Z" fill="#fff" stroke="#962828" stroke-width="0.65"/>
<path d="M171.90,176.27 L176.70,176.27 L174.30,180.47 Z" fill="#fff" stroke="#962828" stroke-width="0.65"/>
<path d="M197.80,168.02 L202.60,168.02 L200.20,172.22 Z" fill="#fff" stroke="#962828" stroke-width="0.65"/>
<path d="M223.70,162.90 L228.50,162.90 L226.10,167.10 Z" fill="#fff" stroke="#962828" stroke-width="0.65"/>
<path d="M249.60,158.84 L254.40,158.84 L252.00,163.04 Z" fill="#fff" stroke="#962828" stroke-width="0.65"/>
<path d="M275.50,147.04 L280.30,147.04 L277.90,151.24 Z" fill="#fff" stroke="#962828" stroke-width="0.65"/>
<path d="M301.40,151.89 L306.20,151.89 L303.80,156.09 Z" fill="#fff" stroke="#962828" stroke-width="0.65"/>
<path d="M327.30,138.53 L332.10,138.53 L329.70,142.73 Z" fill="#fff" stroke="#962828" stroke-width="0.65"/>
<path d="M39.5,3.5 H332.5 V213.5 H39.5 Z" fill="none" stroke="#3a3a3a" stroke-width="1"/>
<line x1="37.5" y1="213.11" x2="39.5" y2="213.11" stroke="#3a3a3a" stroke-width="1"/>
<line x1="36.0" y1="200.00" x2="39.5" y2="200.00" stroke="#3a3a3a" stroke-width="1"/>
<text x="33.9" y="203.45" text-anchor="end" font-size="10.8" font-family="Liberation Sans, sans-serif" fill="#000">0</text>
<line x1="37.5" y1="186.89" x2="39.5" y2="186.89" stroke="#3a3a3a" stroke-width="1"/>
<line x1="36.0" y1="173.79" x2="39.5" y2="173.79" stroke="#3a3a3a" stroke-width="1"/>
<text x="33.9" y="177.24" text-anchor="end" font-size="10.8" font-family="Liberation Sans, sans-serif" fill="#000">20</text>
<line x1="37.5" y1="160.68" x2="39.5" y2="160.68" stroke="#3a3a3a" stroke-width="1"/>
<line x1="36.0" y1="147.57" x2="39.5" y2="147.57" stroke="#3a3a3a" stroke-width="1"/>
<text x="33.9" y="151.02" text-anchor="end" font-size="10.8" font-family="Liberation Sans, sans-serif" fill="#000">40</text>
<line x1="37.5" y1="134.47" x2="39.5" y2="134.47" stroke="#3a3a3a" stroke-width="1"/>
<line x1="36.0" y1="121.36" x2="39.5" y2="121.36" stroke="#3a3a3a" stroke-width="1"/>
<text x="33.9" y="124.81" text-anchor="end" font-size="10.8" font-family="Liberation Sans, sans-serif" fill="#000">60</text>
<line x1="37.5" y1="108.25" x2="39.5" y2="108.25" stroke="#3a3a3a" stroke-width="1"/>
<line x1="36.0" y1="95.14" x2="39.5" y2="95.14" stroke="#3a3a3a" stroke-width="1"/>
<text x="33.9" y="98.59" text-anchor="end" font-size="10.8" font-family="Liberation Sans, sans-serif" fill="#000">80</text>
<line x1="37.5" y1="82.04" x2="39.5" y2="82.04" stroke="#3a3a3a" stroke-width="1"/>
<line x1="36.0" y1="68.93" x2="39.5" y2="68.93" stroke="#3a3a3a" stroke-width="1"/>
<text x="33.9" y="72.38" text-anchor="end" font-size="10.8" font-family="Liberation Sans, sans-serif" fill="#000">100</text>
<line x1="37.5" y1="55.82" x2="39.5" y2="55.82" stroke="#3a3a3a" stroke-width="1"/>
<line x1="36.0" y1="42.72" x2="39.5" y2="42.72" stroke="#3a3a3a" stroke-width="1"/>
<text x="33.9" y="46.17" text-anchor="end" font-size="10.8" font-family="Liberation Sans, sans-serif" fill="#000">120</text>
<line x1="37.5" y1="29.61" x2="39.5" y2="29.61" stroke="#3a3a3a" stroke-width="1"/>
<line x1="36.0" y1="16.50" x2="39.5" y2="16.50" stroke="#3a3a3a" stroke-width="1"/>
<text x="33.9" y="19.95" text-anchor="end" font-size="10.8" font-family="Liberation Sans, sans-serif" fill="#000">140</text>
<line x1="37.5" y1="3.40" x2="39.5" y2="3.40" stroke="#3a3a3a" stroke-width="1"/>
<line x1="44.80" y1="213.5" x2="44.80" y2="217.0" stroke="#3a3a3a" stroke-width="1"/>
<text x="40.80" y="229" text-anchor="middle" font-size="11" font-family="Liberation Sans, sans-serif" fill="#000">10</text>
<line x1="57.75" y1="213.5" x2="57.75" y2="215.5" stroke="#3a3a3a" stroke-width="1"/>
<line x1="70.70" y1="213.5" x2="70.70" y2="217.0" stroke="#3a3a3a" stroke-width="1"/>
<text x="66.70" y="229" text-anchor="middle" font-size="11" font-family="Liberation Sans, sans-serif" fill="#000">20</text>
<line x1="83.65" y1="213.5" x2="83.65" y2="215.5" stroke="#3a3a3a" stroke-width="1"/>
<line x1="96.60" y1="213.5" x2="96.60" y2="217.0" stroke="#3a3a3a" stroke-width="1"/>
<text x="92.60" y="229" text-anchor="middle" font-size="11" font-family="Liberation Sans, sans-serif" fill="#000">30</text>
<line x1="109.55" y1="213.5" x2="109.55" y2="215.5" stroke="#3a3a3a" stroke-width="1"/>
<line x1="122.50" y1="213.5" x2="122.50" y2="217.0" stroke="#3a3a3a" stroke-width="1"/>
<text x="118.50" y="229" text-anchor="middle" font-size="11" font-family="Liberation Sans, sans-serif" fill="#000">40</text>
<line x1="135.45" y1="213.5" x2="135.45" y2="215.5" stroke="#3a3a3a" stroke-width="1"/>
<line x1="148.40" y1="213.5" x2="148.40" y2="217.0" stroke="#3a3a3a" stroke-width="1"/>
<text x="144.40" y="229" text-anchor="middle" font-size="11" font-family="Liberation Sans, sans-serif" fill="#000">50</text>
<line x1="161.35" y1="213.5" x2="161.35" y2="215.5" stroke="#3a3a3a" stroke-width="1"/>
<line x1="174.30" y1="213.5" x2="174.30" y2="217.0" stroke="#3a3a3a" stroke-width="1"/>
<text x="170.30" y="229" text-anchor="middle" font-size="11" font-family="Liberation Sans, sans-serif" fill="#000">60</text>
<line x1="187.25" y1="213.5" x2="187.25" y2="215.5" stroke="#3a3a3a" stroke-width="1"/>
<line x1="200.20" y1="213.5" x2="200.20" y2="217.0" stroke="#3a3a3a" stroke-width="1"/>
<text x="196.20" y="229" text-anchor="middle" font-size="11" font-family="Liberation Sans, sans-serif" fill="#000">70</text>
<line x1="213.15" y1="213.5" x2="213.15" y2="215.5" stroke="#3a3a3a" stroke-width="1"/>
<line x1="226.10" y1="213.5" x2="226.10" y2="217.0" stroke="#3a3a3a" stroke-width="1"/>
<text x="222.10" y="229" text-anchor="middle" font-size="11" font-family="Liberation Sans, sans-serif" fill="#000">80</text>
<line x1="239.05" y1="213.5" x2="239.05" y2="215.5" stroke="#3a3a3a" stroke-width="1"/>
<line x1="252.00" y1="213.5" x2="252.00" y2="217.0" stroke="#3a3a3a" stroke-width="1"/>
<text x="248.00" y="229" text-anchor="middle" font-size="11" font-family="Liberation Sans, sans-serif" fill="#000">90</text>
<line x1="264.95" y1="213.5" x2="264.95" y2="215.5" stroke="#3a3a3a" stroke-width="1"/>
<line x1="277.90" y1="213.5" x2="277.90" y2="217.0" stroke="#3a3a3a" stroke-width="1"/>
<text x="273.90" y="229" text-anchor="middle" font-size="11" font-family="Liberation Sans, sans-serif" fill="#000">100</text>
<line x1="290.85" y1="213.5" x2="290.85" y2="215.5" stroke="#3a3a3a" stroke-width="1"/>
<line x1="303.80" y1="213.5" x2="303.80" y2="217.0" stroke="#3a3a3a" stroke-width="1"/>
<text x="299.80" y="229" text-anchor="middle" font-size="11" font-family="Liberation Sans, sans-serif" fill="#000">110</text>
<line x1="316.75" y1="213.5" x2="316.75" y2="215.5" stroke="#3a3a3a" stroke-width="1"/>
<line x1="329.70" y1="213.5" x2="329.70" y2="217.0" stroke="#3a3a3a" stroke-width="1"/>
<text x="325.70" y="229" text-anchor="middle" font-size="11" font-family="Liberation Sans, sans-serif" fill="#000">120</text>
<text x="186.2" y="246.1" text-anchor="middle" font-size="11" font-family="Liberation Sans, sans-serif" fill="#000">Edge Devices</text>
<text transform="translate(8.2,114.9) rotate(-90)" text-anchor="middle" font-size="10.7" font-family="Liberation Sans, sans-serif" fill="#000">Backlogs (Switching)</text>
<rect x="45.5" y="5.0" width="275" height="13.5" fill="#fff" stroke="#999" stroke-width="1"/>
<line x1="54.4" y1="12.3" x2="78.5" y2="12.3" stroke="#289494" stroke-width="1.3"/>
<rect x="64.25" y="10.35" width="3.9" height="3.9" fill="#fff" stroke="#289494" stroke-width="0.65"/>
<text x="81" y="16" font-size="10" font-family="Liberation Sans, sans-serif" fill="#000">MRAM</text>
<line x1="111.2" y1="12.3" x2="134.7" y2="12.3" stroke="#ee4040" stroke-width="1.3"/>
<circle cx="123.30" cy="12.30" r="2.25" fill="#fff" stroke="#ee4040" stroke-width="0.65"/>
<text x="137.8" y="16" font-size="10" font-family="Liberation Sans, sans-serif" fill="#000">DSARA</text>
<line x1="172.4" y1="12.3" x2="196.5" y2="12.3" stroke="#3434f4" stroke-width="1.3"/>
<path d="M184.50,10.20 L186.90,14.40 L182.10,14.40 Z" fill="#fff" stroke="#3434f4" stroke-width="0.65"/>
<text x="199" y="16" font-size="10" font-family="Liberation Sans, sans-serif" fill="#000">SBG-DRA</text>
<line x1="244.5" y1="12.3" x2="268.5" y2="12.3" stroke="#962828" stroke-width="1.3"/>
<path d="M254.10,10.20 L258.90,10.20 L256.50,14.40 Z" fill="#fff" stroke="#962828" stroke-width="0.65"/>
<text x="271.4" y="16" font-size="10" font-family="Liberation Sans, sans-serif" fill="#000">MRA-DFL</text>
<rect x="395.5" y="5.3" width="282.5" height="14.1" fill="#fff" stroke="#999" stroke-width="1"/>
<rect x="399.90" y="7.0" width="23.3" height="11.3" fill="#008080" stroke="#333" stroke-width="0.5"/>
<text x="426.7" y="16.1" font-size="10.5" font-family="Liberation Sans, sans-serif" fill="#000">MRAM</text>
<rect x="459.00" y="7.0" width="23.3" height="11.3" fill="#FF0000" stroke="#333" stroke-width="0.5"/>
<text x="485.2" y="16.1" font-size="10.5" font-family="Liberation Sans, sans-serif" fill="#000">DSARA</text>
<rect x="522.60" y="7.0" width="23.3" height="11.3" fill="#0000FF" stroke="#333" stroke-width="0.5"/>
<text x="548.6" y="16.1" font-size="10.5" font-family="Liberation Sans, sans-serif" fill="#000">SBG-DRA</text>
<rect x="597.70" y="7.0" width="23.3" height="11.3" fill="#800000" stroke="#333" stroke-width="0.5"/>
<text x="623.6" y="16.1" font-size="10.5" font-family="Liberation Sans, sans-serif" fill="#000">MRA-DFL</text>
<rect x="392.50" y="125.56" width="5.4" height="87.34" fill="#008080" stroke="#222" stroke-width="0.5"/>
<rect x="397.90" y="159.34" width="5.4" height="53.56" fill="#FF0000" stroke="#222" stroke-width="0.5"/>
<rect x="403.30" y="186.37" width="5.4" height="26.53" fill="#0000FF" stroke="#222" stroke-width="0.5"/>
<rect x="408.70" y="207.99" width="5.4" height="4.91" fill="#800000" stroke="#222" stroke-width="0.5"/>
<rect x="419.30" y="98.53" width="5.4" height="114.37" fill="#008080" stroke="#222" stroke-width="0.5"/>
<rect x="424.70" y="148.53" width="5.4" height="64.37" fill="#FF0000" stroke="#222" stroke-width="0.5"/>
<rect x="430.10" y="153.94" width="5.4" height="58.96" fill="#0000FF" stroke="#222" stroke-width="0.5"/>
<rect x="435.50" y="193.13" width="5.4" height="19.77" fill="#800000" stroke="#222" stroke-width="0.5"/>
<rect x="446.10" y="70.15" width="5.4" height="142.75" fill="#008080" stroke="#222" stroke-width="0.5"/>
<rect x="451.50" y="120.15" width="5.4" height="92.75" fill="#FF0000" stroke="#222" stroke-width="0.5"/>
<rect x="456.90" y="171.51" width="5.4" height="41.39" fill="#0000FF" stroke="#222" stroke-width="0.5"/>
<rect x="462.30" y="202.59" width="5.4" height="10.31" fill="#800000" stroke="#222" stroke-width="0.5"/>
<rect x="472.90" y="55.29" width="5.4" height="157.61" fill="#008080" stroke="#222" stroke-width="0.5"/>
<rect x="478.30" y="103.94" width="5.4" height="108.96" fill="#FF0000" stroke="#222" stroke-width="0.5"/>
<rect x="483.70" y="129.61" width="5.4" height="83.29" fill="#0000FF" stroke="#222" stroke-width="0.5"/>
<rect x="489.10" y="194.48" width="5.4" height="18.42" fill="#800000" stroke="#222" stroke-width="0.5"/>
<rect x="499.70" y="67.45" width="5.4" height="145.45" fill="#008080" stroke="#222" stroke-width="0.5"/>
<rect x="505.10" y="91.77" width="5.4" height="121.13" fill="#FF0000" stroke="#222" stroke-width="0.5"/>
<rect x="510.50" y="122.86" width="5.4" height="90.04" fill="#0000FF" stroke="#222" stroke-width="0.5"/>
<rect x="515.90" y="194.48" width="5.4" height="18.42" fill="#800000" stroke="#222" stroke-width="0.5"/>
<rect x="526.50" y="76.91" width="5.4" height="135.99" fill="#008080" stroke="#222" stroke-width="0.5"/>
<rect x="531.90" y="135.02" width="5.4" height="77.88" fill="#FF0000" stroke="#222" stroke-width="0.5"/>
<rect x="537.30" y="143.13" width="5.4" height="69.77" fill="#0000FF" stroke="#222" stroke-width="0.5"/>
<rect x="542.70" y="180.97" width="5.4" height="31.93" fill="#800000" stroke="#222" stroke-width="0.5"/>
<rect x="553.30" y="74.21" width="5.4" height="138.69" fill="#008080" stroke="#222" stroke-width="0.5"/>
<rect x="558.70" y="98.53" width="5.4" height="114.37" fill="#FF0000" stroke="#222" stroke-width="0.5"/>
<rect x="564.10" y="152.59" width="5.4" height="60.31" fill="#0000FF" stroke="#222" stroke-width="0.5"/>
<rect x="569.50" y="191.78" width="5.4" height="21.12" fill="#800000" stroke="#222" stroke-width="0.5"/>
<rect x="580.10" y="57.99" width="5.4" height="154.91" fill="#008080" stroke="#222" stroke-width="0.5"/>
<rect x="585.50" y="85.02" width="5.4" height="127.88" fill="#FF0000" stroke="#222" stroke-width="0.5"/>
<rect x="590.90" y="147.18" width="5.4" height="65.72" fill="#0000FF" stroke="#222" stroke-width="0.5"/>
<rect x="596.30" y="195.83" width="5.4" height="17.07" fill="#800000" stroke="#222" stroke-width="0.5"/>
<rect x="606.90" y="29.61" width="5.4" height="183.29" fill="#008080" stroke="#222" stroke-width="0.5"/>
<rect x="612.30" y="62.04" width="5.4" height="150.86" fill="#FF0000" stroke="#222" stroke-width="0.5"/>
<rect x="617.70" y="149.88" width="5.4" height="63.02" fill="#0000FF" stroke="#222" stroke-width="0.5"/>
<rect x="623.10" y="176.91" width="5.4" height="35.99" fill="#800000" stroke="#222" stroke-width="0.5"/>
<rect x="633.70" y="20.15" width="5.4" height="192.75" fill="#008080" stroke="#222" stroke-width="0.5"/>
<rect x="639.10" y="75.56" width="5.4" height="137.34" fill="#FF0000" stroke="#222" stroke-width="0.5"/>
<rect x="644.50" y="125.56" width="5.4" height="87.34" fill="#0000FF" stroke="#222" stroke-width="0.5"/>
<rect x="649.90" y="179.62" width="5.4" height="33.28" fill="#800000" stroke="#222" stroke-width="0.5"/>
<rect x="660.50" y="17.45" width="5.4" height="195.45" fill="#008080" stroke="#222" stroke-width="0.5"/>
<rect x="665.90" y="75.56" width="5.4" height="137.34" fill="#FF0000" stroke="#222" stroke-width="0.5"/>
<rect x="671.30" y="107.99" width="5.4" height="104.91" fill="#0000FF" stroke="#222" stroke-width="0.5"/>
<rect x="676.70" y="170.16" width="5.4" height="42.74" fill="#800000" stroke="#222" stroke-width="0.5"/>
<path d="M390.5,1.5 H684.4 V213.5 H390.5" fill="none" stroke="#3a3a3a" stroke-width="1"/>
<line x1="390.2" y1="1.5" x2="390.2" y2="213.5" stroke="#7a7a7a" stroke-width="1.8"/>
<line x1="387.0" y1="212.90" x2="390.5" y2="212.90" stroke="#3a3a3a" stroke-width="1"/>
<text x="384.7" y="216.30" text-anchor="end" font-size="10.7" font-family="Liberation Sans, sans-serif" fill="#000">0</text>
<line x1="388.5" y1="199.39" x2="390.5" y2="199.39" stroke="#3a3a3a" stroke-width="1"/>
<line x1="387.0" y1="185.87" x2="390.5" y2="185.87" stroke="#3a3a3a" stroke-width="1"/>
<text x="384.7" y="189.27" text-anchor="end" font-size="10.7" font-family="Liberation Sans, sans-serif" fill="#000">20</text>
<line x1="388.5" y1="172.36" x2="390.5" y2="172.36" stroke="#3a3a3a" stroke-width="1"/>
<line x1="387.0" y1="158.84" x2="390.5" y2="158.84" stroke="#3a3a3a" stroke-width="1"/>
<text x="384.7" y="162.24" text-anchor="end" font-size="10.7" font-family="Liberation Sans, sans-serif" fill="#000">40</text>
<line x1="388.5" y1="145.33" x2="390.5" y2="145.33" stroke="#3a3a3a" stroke-width="1"/>
<line x1="387.0" y1="131.82" x2="390.5" y2="131.82" stroke="#3a3a3a" stroke-width="1"/>
<text x="384.7" y="135.22" text-anchor="end" font-size="10.7" font-family="Liberation Sans, sans-serif" fill="#000">60</text>
<line x1="388.5" y1="118.30" x2="390.5" y2="118.30" stroke="#3a3a3a" stroke-width="1"/>
<line x1="387.0" y1="104.79" x2="390.5" y2="104.79" stroke="#3a3a3a" stroke-width="1"/>
<text x="384.7" y="108.19" text-anchor="end" font-size="10.7" font-family="Liberation Sans, sans-serif" fill="#000">80</text>
<line x1="388.5" y1="91.27" x2="390.5" y2="91.27" stroke="#3a3a3a" stroke-width="1"/>
<line x1="387.0" y1="77.76" x2="390.5" y2="77.76" stroke="#3a3a3a" stroke-width="1"/>
<text x="384.7" y="81.16" text-anchor="end" font-size="10.7" font-family="Liberation Sans, sans-serif" fill="#000">100</text>
<line x1="388.5" y1="64.25" x2="390.5" y2="64.25" stroke="#3a3a3a" stroke-width="1"/>
<line x1="387.0" y1="50.73" x2="390.5" y2="50.73" stroke="#3a3a3a" stroke-width="1"/>
<text x="384.7" y="54.13" text-anchor="end" font-size="10.7" font-family="Liberation Sans, sans-serif" fill="#000">120</text>
<line x1="388.5" y1="37.22" x2="390.5" y2="37.22" stroke="#3a3a3a" stroke-width="1"/>
<line x1="387.0" y1="23.70" x2="390.5" y2="23.70" stroke="#3a3a3a" stroke-width="1"/>
<text x="384.7" y="27.10" text-anchor="end" font-size="10.7" font-family="Liberation Sans, sans-serif" fill="#000">140</text>
<line x1="388.5" y1="10.19" x2="390.5" y2="10.19" stroke="#3a3a3a" stroke-width="1"/>
<line x1="403.30" y1="213.5" x2="403.30" y2="217.0" stroke="#3a3a3a" stroke-width="1"/>
<text x="403.30" y="228" text-anchor="middle" font-size="11" font-family="Liberation Sans, sans-serif" fill="#000">1</text>
<line x1="416.70" y1="213.5" x2="416.70" y2="215.5" stroke="#3a3a3a" stroke-width="1"/>
<line x1="430.10" y1="213.5" x2="430.10" y2="217.0" stroke="#3a3a3a" stroke-width="1"/>
<text x="430.10" y="228" text-anchor="middle" font-size="11" font-family="Liberation Sans, sans-serif" fill="#000">2</text>
<line x1="443.50" y1="213.5" x2="443.50" y2="215.5" stroke="#3a3a3a" stroke-width="1"/>
<line x1="456.90" y1="213.5" x2="456.90" y2="217.0" stroke="#3a3a3a" stroke-width="1"/>
<text x="456.90" y="228" text-anchor="middle" font-size="11" font-family="Liberation Sans, sans-serif" fill="#000">3</text>
<line x1="470.30" y1="213.5" x2="470.30" y2="215.5" stroke="#3a3a3a" stroke-width="1"/>
<line x1="483.70" y1="213.5" x2="483.70" y2="217.0" stroke="#3a3a3a" stroke-width="1"/>
<text x="483.70" y="228" text-anchor="middle" font-size="11" font-family="Liberation Sans, sans-serif" fill="#000">4</text>
<line x1="497.10" y1="213.5" x2="497.10" y2="215.5" stroke="#3a3a3a" stroke-width="1"/>
<line x1="510.50" y1="213.5" x2="510.50" y2="217.0" stroke="#3a3a3a" stroke-width="1"/>
<text x="510.50" y="228" text-anchor="middle" font-size="11" font-family="Liberation Sans, sans-serif" fill="#000">5</text>
<line x1="523.90" y1="213.5" x2="523.90" y2="215.5" stroke="#3a3a3a" stroke-width="1"/>
<line x1="537.30" y1="213.5" x2="537.30" y2="217.0" stroke="#3a3a3a" stroke-width="1"/>
<text x="537.30" y="228" text-anchor="middle" font-size="11" font-family="Liberation Sans, sans-serif" fill="#000">6</text>
<line x1="550.70" y1="213.5" x2="550.70" y2="215.5" stroke="#3a3a3a" stroke-width="1"/>
<line x1="564.10" y1="213.5" x2="564.10" y2="217.0" stroke="#3a3a3a" stroke-width="1"/>
<text x="564.10" y="228" text-anchor="middle" font-size="11" font-family="Liberation Sans, sans-serif" fill="#000">7</text>
<line x1="577.50" y1="213.5" x2="577.50" y2="215.5" stroke="#3a3a3a" stroke-width="1"/>
<line x1="590.90" y1="213.5" x2="590.90" y2="217.0" stroke="#3a3a3a" stroke-width="1"/>
<text x="590.90" y="228" text-anchor="middle" font-size="11" font-family="Liberation Sans, sans-serif" fill="#000">8</text>
<line x1="604.30" y1="213.5" x2="604.30" y2="215.5" stroke="#3a3a3a" stroke-width="1"/>
<line x1="617.70" y1="213.5" x2="617.70" y2="217.0" stroke="#3a3a3a" stroke-width="1"/>
<text x="617.70" y="228" text-anchor="middle" font-size="11" font-family="Liberation Sans, sans-serif" fill="#000">9</text>
<line x1="631.10" y1="213.5" x2="631.10" y2="215.5" stroke="#3a3a3a" stroke-width="1"/>
<line x1="644.50" y1="213.5" x2="644.50" y2="217.0" stroke="#3a3a3a" stroke-width="1"/>
<text x="644.50" y="228" text-anchor="middle" font-size="11" font-family="Liberation Sans, sans-serif" fill="#000">10</text>
<line x1="657.90" y1="213.5" x2="657.90" y2="215.5" stroke="#3a3a3a" stroke-width="1"/>
<line x1="671.30" y1="213.5" x2="671.30" y2="217.0" stroke="#3a3a3a" stroke-width="1"/>
<text x="671.30" y="228" text-anchor="middle" font-size="11" font-family="Liberation Sans, sans-serif" fill="#000">11</text>
<text x="537.1" y="246.1" text-anchor="middle" font-size="11" font-family="Liberation Sans, sans-serif" fill="#000">Resources</text>
<text transform="translate(358.7,114.3) rotate(-90)" text-anchor="middle" font-size="11" font-family="Liberation Sans, sans-serif" fill="#000">Backlogs (Switching)</text></svg>
</body></html>
